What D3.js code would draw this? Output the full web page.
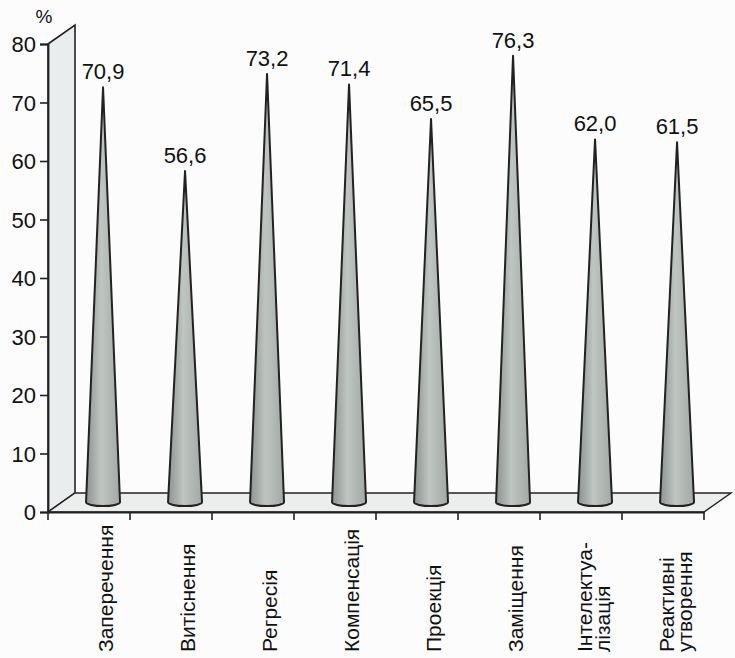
<!DOCTYPE html>
<html>
<head>
<meta charset="utf-8">
<script src="https://cdnjs.cloudflare.com/ajax/libs/d3/7.8.5/d3.min.js"></script>
<style>
  body { margin: 0; background: #fcfcfc; }
  text { font-family: "Liberation Sans", Arial, sans-serif; fill: #111; }
</style>
</head>
<body>
<div id="chart"></div>
<script>
// data
var categories = ["Заперечення", "Витіснення", "Регресія", "Компенсація",
                  "Проекція", "Заміщення", "Інтелектуа-|лізація", "Реактивні|утворення"];
var values = [70.9, 56.6, 73.2, 71.4, 65.5, 76.3, 62.0, 61.5];
var yTicks = [0, 10, 20, 30, 40, 50, 60, 70, 80];

var W = 735, H = 658;
var left = 48, right = 704;     // front edge of the floor
var dx = 27, dy = -19;          // depth offset of back wall

var svg = d3.select("#chart").append("svg")
  .attr("width", W).attr("height", H);

var defs = svg.append("defs");
var grad = defs.append("linearGradient").attr("id", "cone")
  .attr("x1", "0%").attr("x2", "100%").attr("y1", "0%").attr("y2", "0%");
grad.append("stop").attr("offset", "0%").attr("stop-color", "#8e9391");
grad.append("stop").attr("offset", "45%").attr("stop-color", "#bfc5c1");
grad.append("stop").attr("offset", "100%").attr("stop-color", "#a2a9a5");

var y = d3.scaleLinear().domain([0, 80]).range([512, 44]);
var x = d3.scaleBand().domain(categories).range([left, right]);

// back wall
svg.append("path")
  .attr("d", "M" + left + "," + y(0) + "L" + left + "," + y(80) +
             "L" + (left + dx) + "," + (y(80) + dy) + "L" + (left + dx) + "," + (y(0) + dy) + "Z")
  .attr("fill", "#eaeded")
  .attr("stroke", "#222").attr("stroke-width", 1.6);

// floor
svg.append("path")
  .attr("d", "M" + left + "," + y(0) + "L" + (left + dx) + "," + (y(0) + dy) +
             "L" + (right + dx) + "," + (y(0) + dy) + "L" + right + "," + y(0) + "Z")
  .attr("fill", "#eceeee")
  .attr("stroke", "#222").attr("stroke-width", 1.4);

// y axis
var yAxis = svg.append("g")
  .attr("transform", "translate(" + left + ",0)")
  .call(d3.axisLeft(y).tickValues(yTicks).tickSize(8).tickPadding(4));
yAxis.select(".domain").attr("stroke", "#222").attr("stroke-width", 1.8);
yAxis.selectAll(".tick line").attr("stroke", "#222").attr("stroke-width", 1.6);
yAxis.selectAll(".tick text")
  .style("font-family", "'Liberation Sans', Arial, sans-serif")
  .style("font-size", "22px").attr("fill", "#111").attr("dy", "0.36em");

svg.append("text")
  .attr("x", 44).attr("y", 23)
  .attr("text-anchor", "middle")
  .style("font-size", "19px")
  .text("%");

// x axis (front floor edge)
var xAxis = svg.append("g")
  .attr("transform", "translate(0," + y(0) + ")")
  .call(d3.axisBottom(x).tickSize(0).tickFormat(""));
xAxis.select(".domain").attr("stroke", "#222").attr("stroke-width", 1.8);
var bounds = [left].concat(categories.map(function(c) { return x(c) + x.bandwidth(); }));
xAxis.selectAll(".sep").data(bounds).enter().append("line")
  .attr("x1", function(d) { return d; }).attr("x2", function(d) { return d; })
  .attr("y1", 0).attr("y2", 8)
  .attr("stroke", "#222").attr("stroke-width", 1.6);

// cones
var zx = dx * 0.52, zy = dy * 0.52;
var rx = 17, ry = 4;
var cones = svg.append("g");
categories.forEach(function(c, i) {
  var cx = x(c) + x.bandwidth() / 2 + zx;
  var by = y(0) + zy;
  var ay = y(values[i]) + zy;
  cones.append("path")
    .attr("d", "M" + (cx - rx) + "," + by + "L" + cx + "," + ay + "L" + (cx + rx) + "," + by +
               "A" + rx + "," + ry + " 0 0 1 " + (cx - rx) + "," + by + "Z")
    .attr("fill", "url(#cone)")
    .attr("stroke", "#222").attr("stroke-width", 2)
    .attr("stroke-linejoin", "round");
  cones.append("text")
    .attr("x", cx).attr("y", ay - 8)
    .attr("text-anchor", "middle")
    .style("font-size", "22px")
    .text(values[i].toFixed(1).replace(".", ","));
});

// category labels, rotated, starting from the bottom
categories.forEach(function(c) {
  var lines = c.split("|");
  var cx = x(c) + x.bandwidth() / 2 + zx;
  var t = svg.append("text")
    .attr("transform", "translate(" + cx + ",652) rotate(-90)")
    .attr("text-anchor", "start")
    .style("font-size", "21px");
  lines.forEach(function(l, j) {
    t.append("tspan")
      .attr("x", 0)
      .attr("y", lines.length === 1 ? 10 : (j === 0 ? -3 : 15))
      .text(l);
  });
});
</script>
</body>
</html>
